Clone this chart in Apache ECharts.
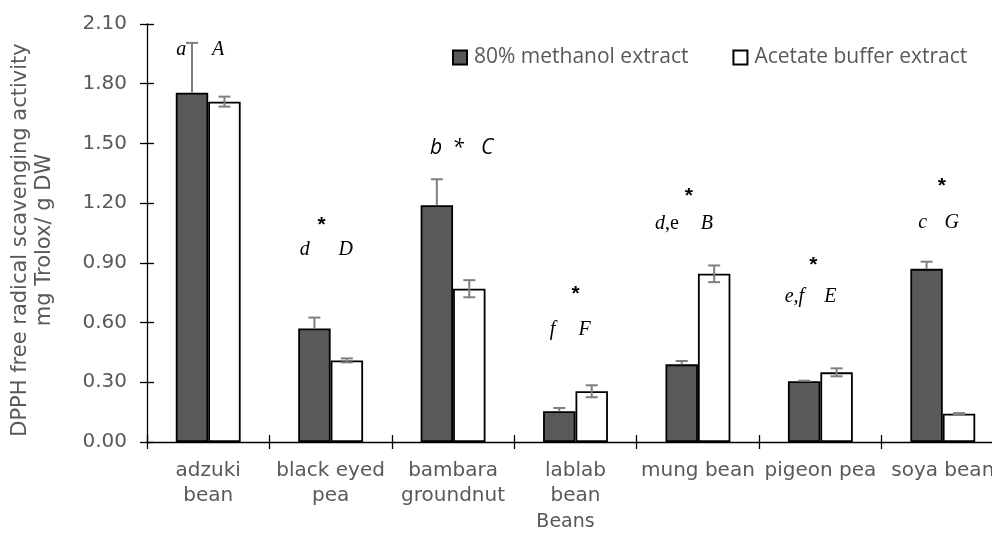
<!DOCTYPE html>
<html>
<head>
<meta charset="utf-8">
<script src="https://cdn.jsdelivr.net/npm/echarts@6/dist/echarts.min.js"></script>
<style>
  html, body { margin: 0; padding: 0; background: #fff; overflow: hidden; }
  #chart { width: 1010px; height: 539px; }
</style>
</head>
<body>
<div id="chart"></div>
<script>
// Bean varieties along the x axis
const categories = ['adzuki\nbean', 'black eyed\npea', 'bambara\ngroundnut', 'lablab\nbean', 'mung bean', 'pigeon pea', 'soya bean'];

// DPPH scavenging activity (mg Trolox / g DW) and standard errors
const methanolValues = [1.755, 0.57, 1.19, 0.155, 0.39, 0.305, 0.87];
const methanolErrors = [0.25, 0.055, 0.13, 0.016, 0.017, 0.003, 0.036];
const acetateValues = [1.71, 0.41, 0.77, 0.255, 0.845, 0.35, 0.142];
const acetateErrors = [0.025, 0.01, 0.043, 0.03, 0.042, 0.02, 0.003];

// Significance letters and markers, with the heights (axis units) they sit at
const methanolLetters = ['a', 'd', 'b', 'f', 'd,e', 'e,f', 'c'];
const acetateLetters = ['A', 'D', 'C', 'F', 'B', 'E', 'G'];
const letterLevels = [1.97, 0.965, 1.477, 0.563, 1.095, 0.728, 1.10];
const starMarks = ['', '*', '*', '*', '*', '*', '*'];
const starLevels = [1.97, 1.105, 1.477, 0.76, 1.25, 0.904, 1.30];

// Y axis ticks
const yMin = 0, yMax = 2.1, yStep = 0.3;

// Horizontal nudges (px) of the annotation text from each category centre
const lowerShift = [-27, -26, -17, -23, -31, -26, -20];
const upperShift = [10, 15, 34, 9, 9, 10, 9];
const starShift = [0, -9, 5, 0, -9, -7, -1];

const GREY = '#595959';
const serif = '"Liberation Serif", "Times New Roman", serif';
const sansItalicFont = '"Open Sans", "Liberation Sans", sans-serif';
const axisFont = '"DejaVu Sans", Verdana, sans-serif';
const BAR_FRAC = 0.265;

function errorSeries(values, errors, side, bothWays) {
  return {
    type: 'custom',
    name: 'err' + side,
    xAxisIndex: 0, yAxisIndex: 0,
    silent: true,
    z: 5,
    data: values.map((v, i) => [i, v, errors[i]]),
    renderItem: function (params, api) {
      const i = api.value(0), v = api.value(1), e = api.value(2);
      const band = api.size([1, 0])[0];
      const bw = band * BAR_FRAC;
      const c = api.coord([i, v]);
      const x = c[0] + side * bw / 2;
      const top = api.coord([i, v + e])[1];
      const bot = bothWays ? api.coord([i, v - e])[1] : c[1];
      const cap = 6;
      const style = { stroke: '#7f7f7f', lineWidth: 2 };
      const children = [
        { type: 'line', shape: { x1: x, y1: top, x2: x, y2: bot }, style },
        { type: 'line', shape: { x1: x - cap, y1: top, x2: x + cap, y2: top }, style }
      ];
      if (bothWays) {
        children.push({ type: 'line', shape: { x1: x - cap, y1: bot, x2: x + cap, y2: bot }, style });
      }
      return { type: 'group', children };
    }
  };
}

function textSeries(name, texts, levels, shifts, styler) {
  return {
    type: 'scatter',
    name: name,
    symbol: 'circle',
    symbolSize: 1,
    itemStyle: { color: 'rgba(0,0,0,0)' },
    silent: true,
    z: 6,
    data: texts.map((t, i) => ({
      value: [i, levels[i]],
      label: Object.assign({
        show: t !== '',
        formatter: t,
        offset: [shifts[i], 0],
        position: 'inside',
        opacity: 1
      }, styler(t, i))
    }))
  };
}

const letterStyle = (t, i) => {
  if (i === 2) {
    return { fontFamily: sansItalicFont, fontStyle: 'italic', fontSize: 21, color: '#000' };
  }
  if (t === 'd,e') {
    return {
      formatter: '{i|d},{n|e}',
      rich: {
        i: { fontFamily: serif, fontStyle: 'italic', fontSize: 20, color: '#000' },
        n: { fontFamily: serif, fontStyle: 'normal', fontSize: 20, color: '#000' }
      },
      fontFamily: serif, fontSize: 20, color: '#000'
    };
  }
  return { fontFamily: serif, fontStyle: 'italic', fontSize: 20, color: '#000' };
};

const starStyle = (t, i) => {
  if (i === 2) {
    return { fontFamily: sansItalicFont, fontStyle: 'italic', fontSize: 21, color: '#000' };
  }
  return { fontFamily: '"Liberation Sans", sans-serif', fontWeight: 'bold', fontSize: 21, color: '#000', offset: [starShift[i], 3] };
};

const chart = echarts.init(document.getElementById('chart'), null, { renderer: 'canvas' });

chart.setOption({
  animation: false,
  backgroundColor: '#fff',
  grid: { left: 147, top: 24, right: 6, height: 418 },
  legend: {
    data: ['80% methanol extract', 'Acetate buffer extract'],
    left: 452, top: 47,
    padding: 0,
    icon: 'rect',
    itemWidth: 14, itemHeight: 14,
    itemGap: 44,
    textStyle: { fontFamily: '"Open Sans", sans-serif', fontSize: 21, color: GREY, padding: [0, 0, 0, 2] }
  },
  xAxis: [{
    type: 'category',
    data: categories,
    position: 'bottom',
    axisLine: { lineStyle: { color: '#000', width: 1.3 } },
    axisTick: { show: true, length: 7, lineStyle: { color: '#000', width: 1.3 } },
    axisLabel: { fontFamily: axisFont, fontSize: 20, color: GREY, margin: 16, lineHeight: 25, interval: 0 },
    name: 'Beans',
    nameLocation: 'middle',
    nameGap: 70,
    nameTextStyle: { fontFamily: axisFont, fontSize: 19, color: GREY, padding: [0, 20, 0, 0] }
  }, {
    type: 'category',
    data: categories,
    position: 'bottom',
    axisLine: { show: false },
    axisTick: { show: true, inside: true, length: 7, lineStyle: { color: '#000', width: 1.3 } },
    axisLabel: { show: false }
  }],
  yAxis: [{
    type: 'value',
    min: yMin, max: yMax, interval: yStep,
    axisLine: { show: true, lineStyle: { color: '#000', width: 1.3 } },
    axisTick: { show: true, length: 7, lineStyle: { color: '#000', width: 1.3 } },
    splitLine: { show: false },
    axisLabel: {
      fontFamily: axisFont, fontSize: 20, color: GREY, margin: 20,
      formatter: v => v.toFixed(2)
    }
  }, {
    type: 'value',
    min: yMin, max: yMax, interval: yStep,
    position: 'left',
    axisLine: { show: false },
    axisTick: { show: true, inside: true, length: 7, lineStyle: { color: '#000', width: 1.3 } },
    splitLine: { show: false },
    axisLabel: { show: false }
  }],
  graphic: [{
    type: 'text',
    style: {
      text: 'DPPH free radical scavenging activity\nmg Trolox/ g DW',
      fontFamily: axisFont,
      fontSize: 21,
      lineHeight: 24,
      fill: GREY,
      align: 'center',
      verticalAlign: 'middle'
    },
    x: 33, y: 240,
    rotation: Math.PI / 2
  }],
  series: [{
    name: '80% methanol extract',
    type: 'bar',
    data: methanolValues,
    barGap: '0%',
    barCategoryGap: '47%',
    itemStyle: { color: GREY, borderColor: '#000', borderWidth: 1.8 }
  }, {
    name: 'Acetate buffer extract',
    type: 'bar',
    data: acetateValues,
    barGap: '0%',
    barCategoryGap: '47%',
    itemStyle: { color: '#fff', borderColor: '#000', borderWidth: 1.8 }
  },
  errorSeries(methanolValues, methanolErrors, -1, false),
  errorSeries(acetateValues, acetateErrors, 1, true),
  textSeries('lower', methanolLetters, letterLevels, lowerShift, letterStyle),
  textSeries('upper', acetateLetters, letterLevels, upperShift, letterStyle),
  textSeries('star', starMarks, starLevels, starShift, starStyle)
  ]
});
</script>
</body>
</html>
